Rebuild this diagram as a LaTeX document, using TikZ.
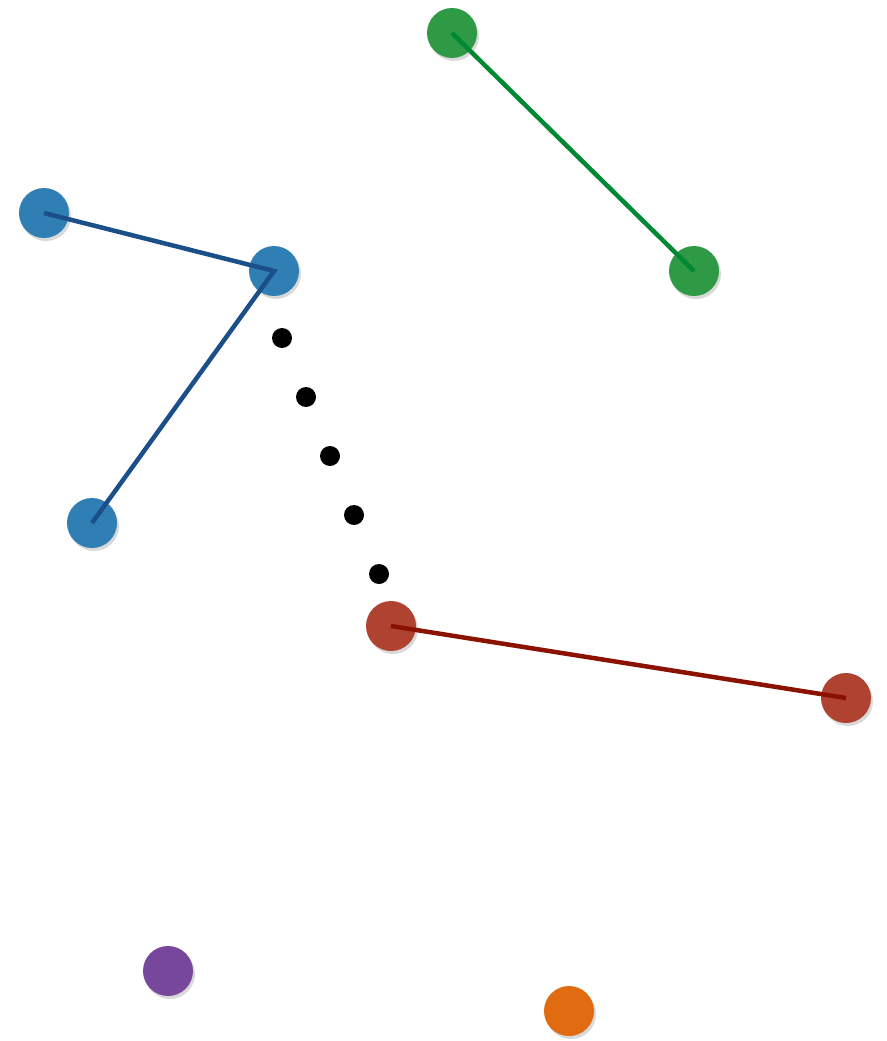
\documentclass[tikz,border=0pt]{standalone}
\usetikzlibrary{shadows}
\definecolor{ballblue}{HTML}{2F7FB5}
\definecolor{lineblue}{HTML}{1A4F8A}
\definecolor{ballgreen}{HTML}{2E9A45}
\definecolor{linegreen}{HTML}{008833}
\definecolor{ballred}{HTML}{B04232}
\definecolor{linered}{HTML}{8B1200}
\definecolor{ballpurple}{HTML}{76479A}
\definecolor{ballorange}{HTML}{E06B10}
\begin{document}
\begin{tikzpicture}[x=1pt, y=-1pt,
          ball/.style={circle, inner sep=0pt, minimum size=50pt,
            drop shadow={shadow xshift=2pt, shadow yshift=-3pt, opacity=0.3}},
          dot/.style={circle, fill=black, inner sep=0pt, minimum size=20pt},
          link/.style={line width=4.5pt}]
        \useasboundingbox (0,0) rectangle (886,1041);
        \node[ball, fill=ballgreen] (g1) at (452,33) {};
        \node[ball, fill=ballgreen] (g2) at (694,271) {};
        \node[ball, fill=ballblue] (b1) at (44,213) {};
        \node[ball, fill=ballblue] (b2) at (274,271) {};
        \node[ball, fill=ballblue] (b3) at (92,523) {};
        \node[ball, fill=ballred] (r1) at (391,626) {};
        \node[ball, fill=ballred] (r2) at (846,698) {};
        \node[ball, fill=ballpurple] (p1) at (168,971) {};
        \node[ball, fill=ballorange] (o1) at (569,1011) {};
        \node[dot] (d1) at (282,338) {};
        \node[dot] (d2) at (306,397) {};
        \node[dot] (d3) at (330,456) {};
        \node[dot] (d4) at (354,515) {};
        \node[dot] (d5) at (379,574) {};
        \draw[link, linegreen] (g1.center) -- (g2.center);
        \draw[link, lineblue] (b1.center) -- (b2.center) -- (b3.center);
        \draw[link, linered] (r1.center) -- (r2.center);
      \end{tikzpicture}
\end{document}
